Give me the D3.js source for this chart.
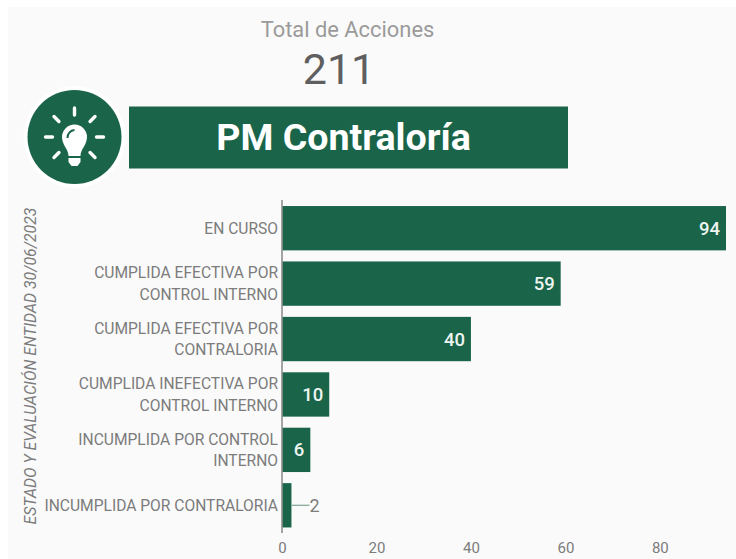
<!DOCTYPE html>
<html>
<head>
<meta charset="utf-8">
<script src="https://cdnjs.cloudflare.com/ajax/libs/d3/7.8.5/d3.min.js"></script>
<style>
html,body{margin:0;padding:0;background:#fff;overflow:hidden}
text{font-family:Roboto,sans-serif}
</style>
</head>
<body>
<svg id="c" width="736" height="559"></svg>
<script>
const categories = [
  ["EN CURSO"],
  ["CUMPLIDA EFECTIVA POR","CONTROL INTERNO"],
  ["CUMPLIDA EFECTIVA POR","CONTRALORIA"],
  ["CUMPLIDA INEFECTIVA POR","CONTROL INTERNO"],
  ["INCUMPLIDA POR CONTROL","INTERNO"],
  ["INCUMPLIDA POR CONTRALORIA"]
];
const seriesValues = [94,59,40,10,6,2];
const xTicks = [0,20,40,60,80];
const totalLabel = "Total de Acciones";
const totalValue = "211";
const bannerTitle = "PM Contraloría";
const yAxisTitle = "ESTADO Y EVALUACIÓN ENTIDAD 30/06/2023";
const green = "#1a6549";
const textGrey = "#7c7c7c";

const svg = d3.select("#c");
svg.append("rect").attr("x",8).attr("y",7).attr("width",728).attr("height",552).attr("fill","#fafafa");

svg.append("text").attr("x",347.5).attr("y",37).attr("text-anchor","middle")
  .attr("font-size",21.9).attr("fill","#9a9a9a").text(totalLabel);
svg.append("text").attr("x",339).attr("y",84).attr("text-anchor","middle")
  .attr("font-size",43).attr("fill","#5f5f5f").text(totalValue);

// banner
svg.append("rect").attr("x",129).attr("y",106.5).attr("width",439).attr("height",62).attr("fill",green);
svg.append("text").attr("x",343.5).attr("y",150).attr("text-anchor","middle")
  .attr("font-size",37.6).attr("font-weight",700).attr("fill","#fff").text(bannerTitle);

// icon
const icon = svg.append("g").attr("transform","translate(74.5,137)");
icon.append("circle").attr("r",51).attr("fill","#fff");
icon.append("circle").attr("r",47).attr("fill",green);
d3.range(8).forEach(i=>{
  if(i===4) return;
  const a = i*Math.PI/4 - Math.PI/2;
  icon.append("line")
    .attr("x1",Math.cos(a)*22).attr("y1",Math.sin(a)*22)
    .attr("x2",Math.cos(a)*29).attr("y2",Math.sin(a)*29)
    .attr("stroke","#fff").attr("stroke-width",3.4).attr("stroke-linecap","round");
});
icon.append("path")
  .attr("d","M-6 19 C-6 12 -12.5 8 -12.5 0 A12.5 12.5 0 1 1 12.5 0 C12.5 8 6 12 6 19 Z")
  .attr("fill","#fff");
icon.append("path")
  .attr("d","M-7 1 A7.5 7.5 0 0 1 0 -7")
  .attr("fill","none").attr("stroke",green).attr("stroke-width",2);
icon.append("path")
  .attr("d","M-6 21 H6 V25 L3 29 H-3 L-6 25 Z").attr("fill","#fff");

// chart
const x = d3.scaleLinear().domain([0,94]).range([282,726]);
const y = d3.scaleBand().domain(d3.range(categories.length)).range([200.5,533]).paddingInner(0.2).paddingOuter(0.1);

svg.selectAll("rect.bar").data(seriesValues).join("rect").attr("class","bar")
  .attr("x",x(0)).attr("y",(d,i)=>y(i))
  .attr("width",d=>x(d)-x(0)).attr("height",y.bandwidth()).attr("fill",green);

const axisB = d3.axisBottom(x).tickValues(xTicks).tickSize(0).tickPadding(0);
const gx = svg.append("g").attr("transform","translate(0,542)").call(axisB);
gx.select(".domain").remove();
gx.selectAll("text").attr("font-size",15).attr("fill",textGrey).attr("dy","0.71em")
  .style("font-family","Roboto,sans-serif");

svg.append("line").attr("x1",x(0)).attr("x2",x(0)).attr("y1",200).attr("y2",533)
  .attr("stroke","#8f8f8f").attr("stroke-width",1.6);

const labels = svg.selectAll("text.cat").data(categories).join("text").attr("class","cat")
  .attr("text-anchor","end").attr("font-size",15.6).attr("fill",textGrey);
labels.each(function(lines,i){
  const cy = y(i)+y.bandwidth()/2;
  const lh = 21.5;
  lines.forEach((l,k)=>{
    d3.select(this).append("tspan").attr("x",278)
      .attr("y",cy + (k-(lines.length-1)/2)*lh + 5.5).text(l);
  });
});

seriesValues.forEach((v,i)=>{
  const cy = y(i)+y.bandwidth()/2;
  if(v>=6){
    svg.append("text").attr("x",x(v)-6).attr("y",cy+6.5)
      .attr("text-anchor","end")
      .attr("font-size",18.5).attr("font-weight",500).attr("fill","#eef5f1").text(v);
  } else {
    svg.append("line").attr("x1",x(v)).attr("x2",x(v)+18).attr("y1",cy).attr("y2",cy)
      .attr("stroke","#7fa594").attr("stroke-width",1.2);
    svg.append("text").attr("x",x(v)+18).attr("y",cy+6.5).attr("font-size",18).attr("fill",textGrey).text(v);
  }
});

svg.append("text").attr("transform","translate(36,366) rotate(-90)")
  .attr("text-anchor","middle").attr("font-size",15.8).attr("font-style","italic")
  .attr("fill",textGrey).text(yAxisTitle);
</script>
</body>
</html>
